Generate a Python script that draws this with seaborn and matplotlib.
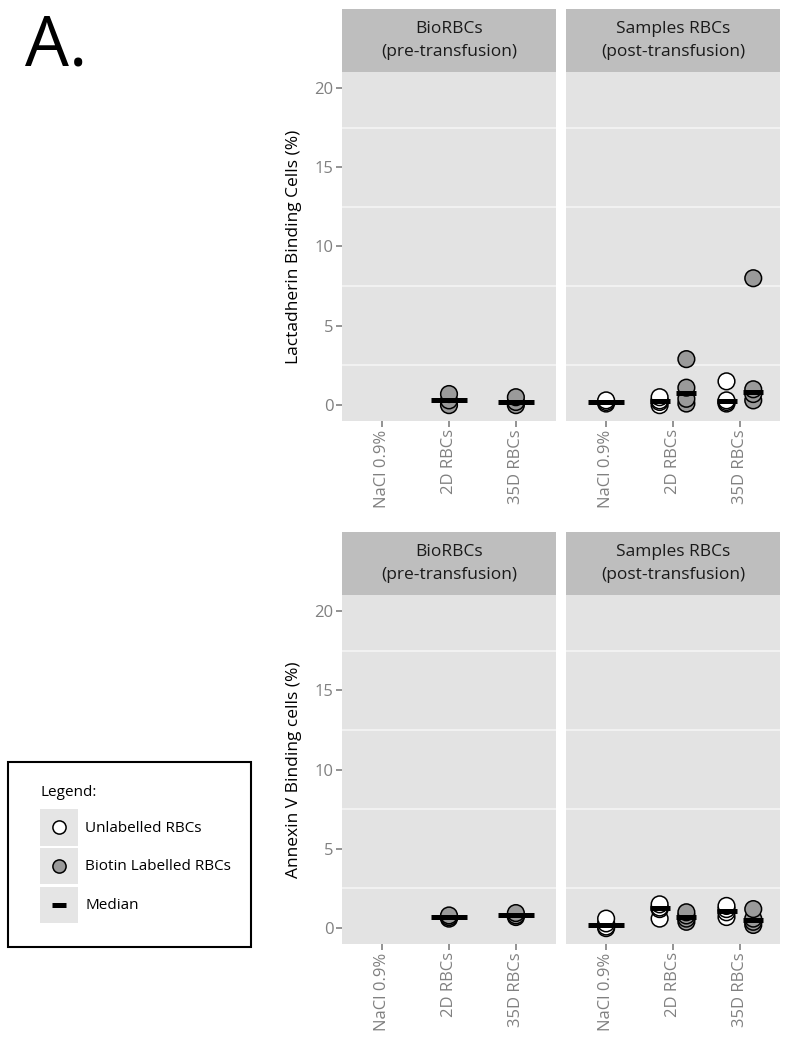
import numpy as np
import pandas as pd
import matplotlib.pyplot as plt
import seaborn as sns
from matplotlib.patches import Rectangle, Patch
from matplotlib.lines import Line2D
from matplotlib.legend_handler import HandlerTuple, HandlerLine2D
from matplotlib.ticker import FixedLocator

categories = ["NaCl 0.9%", "2D RBCs", "35D RBCs"]
groups = ["Unlabelled RBCs", "Biotin Labelled RBCs"]
panels = ["BioRBCs\n(pre-transfusion)", "Samples RBCs\n(post-transfusion)"]

# values per category, None = not measured
lact_pre_unlab = [None, None, None]
lact_pre_lab = [None, [0.0, 0.3, 0.7], [0.0, 0.2, 0.5]]
lact_post_unlab = [[0.1, 0.2, 0.3], [0.0, 0.2, 0.3, 0.5], [0.1, 0.2, 0.3, 1.5]]
lact_post_lab = [None, [0.1, 0.4, 1.1, 2.9], [0.3, 0.7, 1.0, 8.0]]

annex_pre_unlab = [None, None, None]
annex_pre_lab = [None, [0.6, 0.7, 0.8], [0.7, 0.8, 0.95]]
annex_post_unlab = [[0.0, 0.1, 0.3, 0.6], [0.6, 1.2, 1.3, 1.5], [0.7, 1.0, 1.2, 1.4]]
annex_post_lab = [None, [0.4, 0.6, 0.8, 1.0], [0.2, 0.4, 0.6, 1.2]]

ylabels = ["Lactadherin Binding Cells (%)", "Annexin V Binding cells (%)"]
legend_labels = ["Unlabelled RBCs", "Biotin Labelled RBCs", "Median"]

point_colors = {"Unlabelled RBCs": "white", "Biotin Labelled RBCs": "#9a9a9a"}
PANEL_BG = "#e3e3e3"
STRIP_BG = "#bebebe"
TICK_COL = "#808080"


def to_long(unlab, lab):
    rows = []
    for cat, u, l in zip(categories, unlab, lab):
        n_groups = (u is not None) + (l is not None)
        for g, vals in zip(groups, [u, l]):
            if vals is None:
                continue
            for v in vals:
                rows.append(dict(category=cat, group=g, value=v, paired=n_groups == 2))
    return pd.DataFrame(rows)


def draw_panel(ax, d):
    for paired, sub in d.groupby("paired"):
        sns.stripplot(data=sub, x="category", y="value", hue="group",
                      order=categories, hue_order=groups, palette=point_colors,
                      dodge=bool(paired), jitter=False, size=12, linewidth=1.1,
                      edgecolor="black", legend=False, ax=ax, zorder=3)
        sns.pointplot(data=sub, x="category", y="value", hue="group",
                      order=categories, hue_order=groups,
                      palette=["black", "black"], estimator="median",
                      errorbar=None, dodge=0.4 if paired else False,
                      markers="_", markersize=14 if paired else 26,
                      markeredgewidth=3.6, linestyle="none", legend=False,
                      ax=ax, zorder=4)


class CenteredLine(HandlerLine2D):
    # put the legend marker in the middle of the grey key box
    def create_artists(self, legend, orig_handle, xdescent, ydescent,
                       width, height, fontsize, trans):
        arts = super().create_artists(legend, orig_handle, xdescent, ydescent,
                                      width, height, fontsize, trans)
        for a in arts:
            a.set_ydata(np.full(len(a.get_xdata()), height / 2 - ydescent))
        return arts


sns.set_style("white")
plt.rcParams["font.family"] = ["Open Sans", "DejaVu Sans"]
plt.rcParams["text.color"] = "black"

fig = plt.figure(figsize=(7.88, 10.5), dpi=100)

W, H = 788, 1050
data = [
    [to_long(lact_pre_unlab, lact_pre_lab), to_long(lact_post_unlab, lact_post_lab)],
    [to_long(annex_pre_unlab, annex_pre_lab), to_long(annex_post_unlab, annex_post_lab)],
]
row_top = [72, 595]
panel_left = [342, 566]
pw, ph, strip_h = 214, 349, 63

for r in range(2):
    for c in range(2):
        ax = fig.add_axes([panel_left[c] / W, 1 - (row_top[r] + ph) / H, pw / W, ph / H])
        draw_panel(ax, data[r][c])
        ax.set_facecolor(PANEL_BG)
        for s in ax.spines.values():
            s.set_visible(False)
        ax.set_xlim(-0.6, 2.6)
        ax.set_ylim(-1, 21)
        ax.set_yticks([0, 5, 10, 15, 20])
        ax.yaxis.set_minor_locator(FixedLocator([2.5, 7.5, 12.5, 17.5]))
        ax.grid(False)
        ax.grid(which="minor", axis="y", color="#f4f4f4", linewidth=1.2)
        ax.set_axisbelow(True)
        ax.tick_params(which="minor", length=0)
        ax.tick_params(axis="both", which="major", direction="out", length=4,
                       width=1.2, color=TICK_COL, labelcolor=TICK_COL,
                       labelsize=12, pad=2)
        ax.tick_params(axis="x", labelrotation=90, bottom=True)
        ax.set_xlabel("")
        if c == 0:
            ax.tick_params(axis="y", left=True)
            ax.set_ylabel(ylabels[r], fontsize=12.5, color="black", labelpad=9)
        else:
            ax.tick_params(axis="y", left=False, labelleft=False)
            ax.set_ylabel("")
        sh = strip_h / ph
        ax.add_patch(Rectangle((0, 1), 1, sh, transform=ax.transAxes,
                               facecolor=STRIP_BG, edgecolor="none", clip_on=False))
        ax.text(0.5, 1 + sh / 2, panels[c], transform=ax.transAxes, ha="center",
                va="center", fontsize=12.5, color="#1a1a1a", linespacing=1.55)

fig.text(25 / W, 1 - 66 / H, "A.", fontsize=50, ha="left", va="baseline",
         color="black", fontweight="medium")

# legend box
fig.add_artist(Rectangle((8 / W, 1 - 947 / H), 243 / W, 185 / H,
                         transform=fig.transFigure, fill=False,
                         edgecolor="black", linewidth=1.5))
fig.text(40 / W, 1 - 793 / H, "Legend:", fontsize=11, ha="left", va="center")
key_bg = "#e5e5e5"
handles = [
    (Patch(facecolor=key_bg, edgecolor="none"),
     Line2D([], [], marker="o", ls="none", mfc="white", mec="black", ms=9.5, mew=1.1)),
    (Patch(facecolor=key_bg, edgecolor="none"),
     Line2D([], [], marker="o", ls="none", mfc="#9a9a9a", mec="black", ms=9.5, mew=1.1)),
    (Patch(facecolor=key_bg, edgecolor="none"),
     Line2D([], [], marker="_", ls="none", color="black", ms=10, mew=3.6)),
]
fig.legend(handles, legend_labels, fontsize=11, frameon=False,
           loc="upper left", bbox_to_anchor=(40 / W, 1 - 809 / H),
           borderpad=0, borderaxespad=0, handlelength=2.5, handleheight=3.3,
           labelspacing=0.15, handletextpad=0.45,
           handler_map={tuple: HandlerTuple(ndivide=1), Line2D: CenteredLine()})

fig.savefig("out.png", dpi=100)
